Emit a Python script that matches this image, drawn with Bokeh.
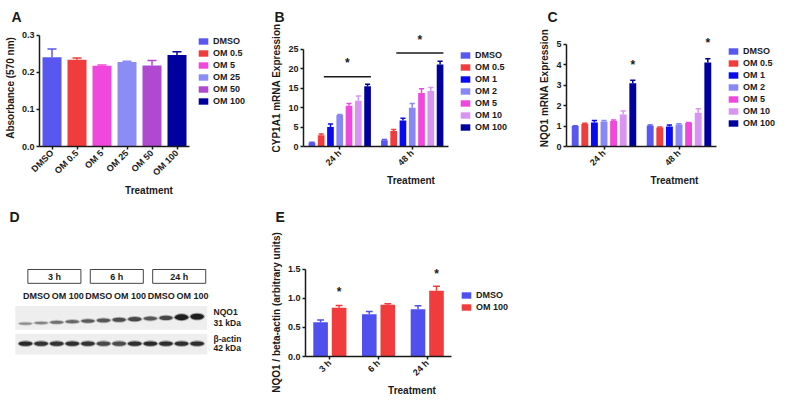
import math
from bokeh.plotting import figure
from bokeh.models import (Range1d, Legend, LegendItem, FixedTicker, Title,
                          PrintfTickFormatter, ColumnDataSource)
from bokeh.transform import dodge
from bokeh.layouts import row, column
from bokeh.embed import file_html
from bokeh.resources import INLINE
from bokeh.core.properties import value

FONT = "Liberation Sans"

# ---------------- data ----------------
# Panel A
a_groups = ["DMSO", "OM 0.5", "OM 5", "OM 25", "OM 50", "OM 100"]
a_mean = [0.241, 0.234, 0.218, 0.228, 0.219, 0.247]
a_err = [0.022, 0.005, 0.002, 0.002, 0.013, 0.009]
a_yticks = [0.0, 0.1, 0.2, 0.3]

# Panels B and C
bc_series = ["DMSO", "OM 0.5", "OM 1", "OM 2", "OM 5", "OM 10", "OM 100"]
bc_times = ["24 h", "48 h"]
b_mean_24 = [1.0, 2.9, 5.0, 8.1, 10.5, 11.8, 15.5]
b_err_24 = [0.1, 0.35, 0.8, 0.15, 0.55, 1.2, 0.55]
b_mean_48 = [1.6, 4.0, 6.7, 10.0, 13.8, 14.3, 21.1]
b_err_48 = [0.2, 0.4, 0.6, 1.1, 1.1, 0.9, 0.9]
b_sig_y = [18.0, 24.1]
b_star_y = [21.4, 27.5]
b_yticks = [0, 5, 10, 15, 20, 25]

c_mean_24 = [1.0, 1.1, 1.18, 1.23, 1.25, 1.57, 3.1]
c_err_24 = [0.02, 0.04, 0.1, 0.04, 0.05, 0.17, 0.15]
c_mean_48 = [1.02, 0.93, 0.98, 1.08, 1.15, 1.65, 4.12]
c_err_48 = [0.03, 0.03, 0.07, 0.03, 0.03, 0.2, 0.18]
c_star_y = [4.0, 5.06]
c_yticks = [0, 1, 2, 3, 4, 5]

# Panel D (western blot)
blot_times = ["3 h", "6 h", "24 h"]
blot_treat = ["DMSO", "OM 100", "DMSO", "OM 100", "DMSO", "OM 100"]
nqo1_band = [0.45, 0.5, 0.6, 0.65, 0.7, 0.72, 0.78, 0.8, 0.72, 0.8, 1.0, 1.0]
actin_band = [0.95, 0.9, 0.9, 0.92, 0.9, 0.8, 0.78, 0.92, 0.95, 0.92, 0.92, 0.92]
blot_markers = ["NQO1", "31 kDa", "\u03b2-actin", "42 kDa"]

# Panel E
e_times = ["3 h", "6 h", "24 h"]
e_series = ["DMSO", "OM 100"]
e_dmso = [0.59, 0.73, 0.815]
e_dmso_err = [0.04, 0.045, 0.06]
e_om = [0.84, 0.89, 1.135]
e_om_err = [0.04, 0.02, 0.075]
e_star_y = [1.12, 1.42]
e_yticks = [0.0, 0.5, 1.0, 1.5]

# ---------------- colours ----------------
COL = {
    "DMSO": "#5858f0", "OM 0.5": "#f03c3c", "OM 1": "#0a0af0", "OM 2": "#8888f5",
    "OM 5": "#f048dc", "OM 10": "#d894f0", "OM 25": "#8c8cf5", "OM 50": "#b048d0",
    "OM 100": "#00009c",
}
E_COL = {"DMSO": "#5050ee", "OM 100": "#f03c3c"}
INK = "#1a1a1a"

ROW1_H, ROW2_H = 204, 196
R1_TOP, R1_BOT = 29, 58
R2_TOP, R2_BOT = 63, 44


def letter_title(p, letter, offset, standoff):
    p.title.text = letter
    p.title.align = "left"
    p.title.offset = offset
    p.title.standoff = standoff
    p.title.text_font = FONT
    p.title.text_font_size = "14px"
    p.title.text_font_style = "bold"
    p.title.text_color = INK


def letter_title_raised(p, letter, offset, gap):
    # an invisible spacer next to the frame, then the panel letter above it
    p.add_layout(Title(text=" ", text_font_size="1px", standoff=gap), "above")
    p.add_layout(Title(text=letter, align="left", offset=offset, standoff=4,
                       text_font=FONT, text_font_size="14px", text_font_style="bold",
                       text_color=INK), "above")


def style(p, cats):
    p.outline_line_color = None
    p.grid.visible = False
    for ax in p.axis:
        ax.axis_line_width = 1.5
        ax.axis_line_color = INK
        ax.major_tick_line_width = 1.5
        ax.major_tick_line_color = INK
        ax.major_tick_out = 3
        ax.major_tick_in = 0
        ax.minor_tick_line_color = None
        ax.major_label_text_font = FONT
        ax.major_label_text_font_style = "bold"
        ax.major_label_text_font_size = "9px"
        ax.major_label_text_color = INK
        ax.major_label_standoff = 2
        ax.axis_label_text_font = FONT
        ax.axis_label_text_font_style = "bold"
        ax.axis_label_text_font_size = "10px"
        ax.axis_label_text_color = INK
        ax.axis_label_standoff = 3
    p.xaxis.axis_label_standoff = 1
    p.xaxis.major_label_orientation = math.pi / 4
    p.xaxis.axis_label = "Treatment"
    p.xaxis.ticker = FixedTicker(ticks=list(range(len(cats))))
    p.xaxis.major_label_overrides = {i: c for i, c in enumerate(cats)}
    p.xaxis.bounds = (-0.5, len(cats) - 0.5)


def make_legend(items, loc):
    return Legend(items=items, location=loc, label_text_font=FONT,
                  label_text_font_style="bold", label_text_font_size="9px",
                  label_text_color=INK, glyph_width=12, glyph_height=8,
                  label_height=9, label_standoff=4, spacing=2, padding=0,
                  margin=0, border_line_color=None, background_fill_alpha=0)


# ---------------- Panel A ----------------
pA = figure(width=260, height=ROW1_H, x_range=Range1d(-0.5, 8.26), y_range=Range1d(0, 0.316),
            output_backend="svg", toolbar_location=None,
            min_border_left=39, min_border_right=2, min_border_top=R1_TOP,
            min_border_bottom=R1_BOT)
a_idx = list(range(len(a_groups)))
srcA = ColumnDataSource(dict(x=a_idx, top=a_mean,
                             up=[m + e for m, e in zip(a_mean, a_err)],
                             color=[COL[g] for g in a_groups]))
rA = pA.vbar(x="x", top="top", width=0.76, fill_color="color", line_color=None, source=srcA)
pA.segment(x0="x", y0="top", x1="x", y1="up", line_color="color", line_width=1.5, source=srcA)
pA.segment(x0=dodge("x", -0.18), y0="up", x1=dodge("x", 0.18), y1="up",
           line_color="color", line_width=1.5, source=srcA)
style(pA, a_groups)
letter_title(pA, "A", -28, 10)
pA.yaxis.axis_label = "Absorbance (570 nm)"
pA.yaxis.ticker = FixedTicker(ticks=a_yticks)
pA.yaxis.formatter = PrintfTickFormatter(format="%.1f")
pA.yaxis.bounds = (0, 0.3)
pA.add_layout(make_legend([LegendItem(label=g, renderers=[rA], index=i)
                           for i, g in enumerate(a_groups)], (158, 40)))


# ---------------- Panels B and C ----------------
def grouped(p, m24, e24, m48, e48, capw):
    items = []
    t_idx = list(range(len(bc_times)))
    for i, s in enumerate(bc_series):
        off = (i - 3) * 0.128
        src = ColumnDataSource(dict(x=t_idx, top=[m24[i], m48[i]],
                                    up=[m24[i] + e24[i], m48[i] + e48[i]]))
        c = COL[s]
        r = p.vbar(x=dodge("x", off), top="top", width=0.092,
                   fill_color=c, line_color=None, source=src)
        p.segment(x0=dodge("x", off), y0="top", x1=dodge("x", off), y1="up",
                  line_color=c, line_width=1.5, source=src)
        p.segment(x0=dodge("x", off - capw), y0="up", x1=dodge("x", off + capw), y1="up",
                  line_color=c, line_width=1.5, source=src)
        items.append(LegendItem(label=s, renderers=[r]))
    return items


pB = figure(width=260, height=ROW1_H, x_range=Range1d(-0.5, 2.466), y_range=Range1d(0, 30.15),
            output_backend="svg", toolbar_location=None,
            min_border_left=43, min_border_right=2, min_border_top=R1_TOP,
            min_border_bottom=R1_BOT)
itemsB = grouped(pB, b_mean_24, b_err_24, b_mean_48, b_err_48, 0.035)
sigB = ColumnDataSource(dict(x=list(range(len(bc_times))), y=b_sig_y, sy=b_star_y,
                             s=["*"] * len(bc_times)))
pB.segment(x0=dodge("x", -0.22), y0="y", x1=dodge("x", 0.43), y1="y",
           line_color=INK, line_width=1.5, source=sigB)
pB.text(x=dodge("x", 0.105), y="sy", text="s", source=sigB,
        text_font=value(FONT), text_font_style="bold", text_font_size="12px",
        text_align="center", text_baseline="middle", text_color=INK)
style(pB, bc_times)
letter_title(pB, "B", -29, 10)
pB.yaxis.axis_label = "CYP1A1 mRNA Expression"
pB.yaxis.ticker = FixedTicker(ticks=b_yticks)
pB.yaxis.bounds = (0, 25)
pB.add_layout(make_legend(itemsB, (156, 14)))

pC = figure(width=264, height=ROW1_H, x_range=Range1d(-0.5, 2.38), y_range=Range1d(0, 5.735),
            output_backend="svg", toolbar_location=None,
            min_border_left=46, min_border_right=2, min_border_top=R1_TOP,
            min_border_bottom=R1_BOT)
itemsC = grouped(pC, c_mean_24, c_err_24, c_mean_48, c_err_48, 0.035)
sigC = ColumnDataSource(dict(x=list(range(len(bc_times))), sy=c_star_y,
                             s=["*"] * len(bc_times)))
pC.text(x=dodge("x", 0.384), y="sy", text="s", source=sigC,
        text_font=value(FONT), text_font_style="bold", text_font_size="12px",
        text_align="center", text_baseline="middle", text_color=INK)
style(pC, bc_times)
letter_title(pC, "C", -19, 10)
pC.yaxis.axis_label = "NQO1 mRNA Expression"
pC.yaxis.ticker = FixedTicker(ticks=c_yticks)
pC.yaxis.bounds = (0, 5)
pC.add_layout(make_legend(itemsC, (161, 18)))

# ---------------- Panel D (blot) ----------------
pD = figure(width=260, height=ROW2_H, x_range=Range1d(-1.603, 15.06),
            y_range=Range1d(ROW2_H - R2_BOT, R2_TOP), title=None,
            output_backend="svg", toolbar_location=None, x_axis_type=None, y_axis_type=None,
            min_border_left=0, min_border_right=0, min_border_top=R2_TOP,
            min_border_bottom=R2_BOT)
pD.outline_line_color = None
pD.grid.visible = False
letter_title_raised(pD, "D", 9, 39)
lanes = list(range(len(nqo1_band)))
n_l = len(lanes)
# membrane strips
pD.rect(x=[(n_l - 1) / 2.0] * 2, y=[113, 139.5], width=n_l + 0.3, height=[24, 21],
        fill_color="#eeeeee", line_color=None)


def gray(v):
    g = int(235 - 205 * v)
    return "#%02x%02x%02x" % (g, g, g)


nq = ColumnDataSource(dict(x=lanes, y=[118.7 - 0.64 * i for i in lanes],
                           h=[1.5 + 4.5 * v ** 2 for v in nqo1_band],
                           h2=[3.5 + 4.5 * v ** 2 for v in nqo1_band],
                           c=[gray(v) for v in nqo1_band]))
pD.ellipse(x="x", y="y", width=1.0, height="h2", fill_color="c", fill_alpha=0.35,
           line_color=None, source=nq)
pD.ellipse(x="x", y="y", width=0.85, height="h", fill_color="c", line_color=None, source=nq)
ac = ColumnDataSource(dict(x=lanes, y=[139.0] * n_l,
                           c=[gray(v) for v in actin_band]))
pD.ellipse(x="x", y="y", width=1.0, height=7, fill_color="c", fill_alpha=0.35,
           line_color=None, source=ac)
pD.ellipse(x="x", y="y", width=0.88, height=4.5, fill_color="c", line_color=None, source=ac)
# time boxes
bx = ColumnDataSource(dict(x=[4 * g + 1.85 for g in range(len(blot_times))],
                           t=blot_times))
pD.rect(x="x", y=71, width=3.4, height=14, fill_color="white", line_color="#444444",
        line_width=1, source=bx)
pD.text(x="x", y=71.5, text="t", source=bx, text_font=value(FONT), text_font_style="bold",
        text_font_size="9px", text_align="center", text_baseline="middle", text_color=INK)
tl = ColumnDataSource(dict(x=[2 * k + 0.7 for k in range(len(blot_treat))], t=blot_treat))
pD.text(x="x", y=90.5, text="t", source=tl, text_font=value(FONT), text_font_style="bold",
        text_font_size="9px", text_align="center", text_baseline="middle", text_color=INK)
mk = ColumnDataSource(dict(x=[n_l + 0.05] * 4, y=[107, 118, 134, 143.5], t=blot_markers))
pD.text(x="x", y="y", text="t", source=mk, text_font=value(FONT), text_font_style="bold",
        text_font_size="8.5px", text_align="left", text_baseline="middle", text_color=INK)

# ---------------- Panel E ----------------
pE = figure(width=260, height=ROW2_H, x_range=Range1d(-0.5, 3.874), y_range=Range1d(0, 1.517),
            title=None, output_backend="svg", toolbar_location=None,
            min_border_left=45, min_border_right=2, min_border_top=R2_TOP,
            min_border_bottom=R2_BOT)
e_idx = list(range(len(e_times)))
itemsE = []
for s, m, e, off in [("DMSO", e_dmso, e_dmso_err, -0.19), ("OM 100", e_om, e_om_err, 0.19)]:
    src = ColumnDataSource(dict(x=e_idx, top=m, up=[a + b for a, b in zip(m, e)]))
    c = E_COL[s]
    r = pE.vbar(x=dodge("x", off), top="top", width=0.3,
                fill_color=c, line_color=None, source=src)
    pE.segment(x0=dodge("x", off), y0="top", x1=dodge("x", off), y1="up",
               line_color=c, line_width=1.5, source=src)
    pE.segment(x0=dodge("x", off - 0.07), y0="up", x1=dodge("x", off + 0.07), y1="up",
               line_color=c, line_width=1.5, source=src)
    itemsE.append(LegendItem(label=s, renderers=[r]))
sigE = ColumnDataSource(dict(x=[0, 2], sy=e_star_y, s=["*", "*"]))
pE.text(x=dodge("x", 0.19), y="sy", text="s", source=sigE,
        text_font=value(FONT), text_font_style="bold", text_font_size="12px",
        text_align="center", text_baseline="middle", text_color=INK)
style(pE, e_times)
letter_title_raised(pE, "E", -30, 39)
pE.yaxis.axis_label = "NQO1 / beta-actin (arbitrary units)"
pE.yaxis.ticker = FixedTicker(ticks=e_yticks)
pE.yaxis.formatter = PrintfTickFormatter(format="%.1f")
pE.yaxis.bounds = (0, 1.5)
pE.add_layout(make_legend(itemsE, (155, 44)))

layout = column(row(pA, pB, pC), row(pD, pE))
open("out.html", "w").write(file_html(layout, INLINE))
